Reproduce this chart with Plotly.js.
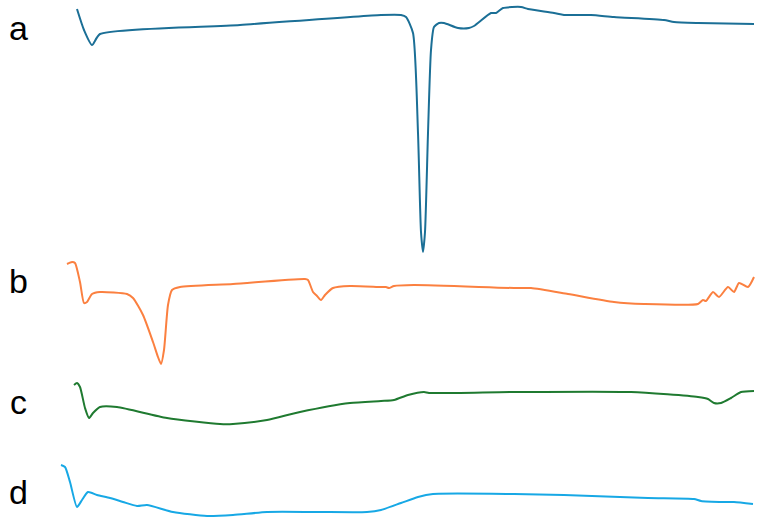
<!DOCTYPE html>
<html>
<head>
<meta charset="utf-8">
<script src="https://cdn.plot.ly/plotly-3.0.1.min.js"></script>
<style>
  html, body { margin: 0; padding: 0; background: #fff; }
  #thermo { width: 762px; height: 524px; }
</style>
</head>
<body>
<div id="thermo"></div>
<script>
// curves (x along the scan, y = vertical position, down is larger)
var xA = [77, 84, 92, 100, 240, 381, 401, 406, 413, 418, 421, 423, 425, 428, 431, 434, 439, 444, 458, 469, 474, 491, 496, 503, 521, 528, 554, 564, 591, 614, 664, 674, 698, 754];
var yA = [9, 30, 45, 34, 25, 15, 15, 17, 33, 133, 232, 252, 232, 133, 50, 27, 23, 23, 28, 28, 26, 13, 13, 8, 7, 9, 13, 15, 15, 17, 20, 22, 23, 24];

var xB = [67, 72, 75, 80, 84, 87, 92, 100, 127, 133, 143, 153, 158, 161, 164, 168, 172, 180, 233, 305, 308, 313, 317, 321, 325, 333, 350, 381, 386, 389, 394, 414, 514, 531, 568, 614, 644, 698, 703, 706, 713, 719, 728, 734, 739, 748, 754];
var yB = [264, 262, 263, 282, 303, 302, 294, 292, 294, 298, 315, 342, 357, 364, 350, 305, 290, 287, 284, 279, 280, 292, 296, 300, 295, 288, 286, 287, 287, 288, 286, 285, 288, 288, 294, 302, 304, 304, 300, 301, 292, 297, 287, 292, 283, 287, 277];

var xC = [74, 77, 80, 85, 89, 93, 100, 117, 167, 220, 233, 267, 300, 350, 381, 394, 408, 424, 429, 514, 631, 698, 708, 714, 721, 731, 741, 754];
var yC = [385, 383, 387, 408, 418, 413, 407, 407, 418, 424, 424, 420, 412, 403, 401, 400, 395, 392, 393, 392, 392, 397, 399, 403, 403, 398, 392, 391];

var xD = [61, 65, 70, 77, 82, 88, 97, 110, 123, 137, 147, 173, 207, 233, 267, 317, 367, 381, 401, 418, 433, 514, 564, 648, 694, 701, 724, 734, 753];
var yD = [465, 467, 482, 507, 500, 492, 495, 498, 502, 506, 505, 512, 516, 515, 512, 512, 512, 510, 503, 497, 494, 494, 495, 498, 499, 501, 502, 502, 504];

var labels = ["a", "b", "c", "d"];
var labelY = [28, 281, 402, 492];

function curve(x, y, color) {
  return {
    x: x, y: y, type: "scatter", mode: "lines",
    line: { color: color, width: 2, shape: "spline", smoothing: 0.6 },
    hoverinfo: "none", showlegend: false
  };
}

var data = [
  curve(xA, yA, "#1b6f96"),
  curve(xB, yB, "#fb8040"),
  curve(xC, yC, "#1f7a30"),
  curve(xD, yD, "#17a8e5")
];

var notes = labels.map(function (t, i) {
  return {
    text: t, x: 18, y: labelY[i], xref: "x", yref: "y",
    showarrow: false, xanchor: "center", yanchor: "middle",
    font: { family: "Liberation Sans, Arial, sans-serif", size: 34, color: "#000" }
  };
});

var layout = {
  width: 762, height: 524,
  margin: { l: 0, r: 0, t: 0, b: 0 },
  paper_bgcolor: "#fff", plot_bgcolor: "#fff",
  xaxis: { range: [0, 762], visible: false, fixedrange: true },
  yaxis: { range: [524, 0], visible: false, fixedrange: true },
  annotations: notes
};

Plotly.newPlot("thermo", data, layout, { displayModeBar: false, staticPlot: true });
</script>
</body>
</html>
